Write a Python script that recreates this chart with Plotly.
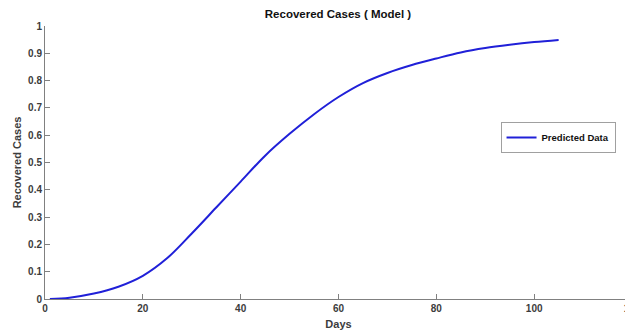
import plotly.graph_objects as go

days = [1, 5, 10, 15, 20, 25, 30, 35, 40, 45, 50, 55, 60, 65, 70, 75, 80, 85, 90, 95, 100, 105]
recovered = [0.000, 0.005, 0.020, 0.045, 0.085, 0.150, 0.240, 0.335, 0.430, 0.525, 0.605, 0.677,
             0.740, 0.791, 0.828, 0.857, 0.881, 0.903, 0.919, 0.931, 0.941, 0.949]
x_ticks = [0, 20, 40, 60, 80, 100, 120]
y_ticks = [0, 0.1, 0.2, 0.3, 0.4, 0.5, 0.6, 0.7, 0.8, 0.9, 1]
y_tick_text = ["0", "0.1", "0.2", "0.3", "0.4", "0.5", "0.6", "0.7", "0.8", "0.9", "1"]

FONT = "Liberation Sans, Arial, sans-serif"
AX = "#808080"
TXT = "#3c3c3c"

W, H = 625, 326  # page body has an 8px default margin
L, T, B, R = 37, 18, 35, 1

fig = go.Figure()
fig.add_trace(go.Scatter(
    x=days, y=recovered, mode="lines", name="<b>Predicted Data</b>",
    line=dict(color="#2020d8", width=2, shape="spline", smoothing=1.0),
))

fig.update_layout(
    width=W, height=H,
    margin=dict(l=L, r=R, t=T, b=B, autoexpand=False),
    paper_bgcolor="white", plot_bgcolor="white",
    font=dict(family=FONT, size=10, color=TXT),
    title=dict(text="<b>Recovered Cases ( Model )</b>", x=330 / W, xanchor="center",
               y=1 - 6 / H, yanchor="middle", font=dict(size=11.5, color="#111111")),
    showlegend=True,
    legend=dict(x=0.874, y=0.592, xanchor="center", yanchor="middle",
                bgcolor="white", bordercolor="#a0a0a0", borderwidth=1,
                font=dict(size=9.5, color="#111111"), itemwidth=30,
                tracegroupgap=0),
    xaxis=dict(range=[0, 120], tickvals=x_ticks, ticktext=[f"<b>{v}</b>" for v in x_ticks],
               showgrid=False, zeroline=False, showline=True, linecolor=AX, linewidth=1,
               ticks="inside", ticklen=5, tickcolor=AX, ticklabeloverflow="allow",
               automargin=False,
               title=dict(text="<b>Days</b>", font=dict(size=11, color=TXT), standoff=7)),
    yaxis=dict(range=[0, 1], tickvals=y_ticks, ticktext=[f"<b>{t}</b>" for t in y_tick_text],
               showgrid=False, zeroline=False, showline=True, linecolor=AX, linewidth=1,
               ticks="inside", ticklen=5, tickcolor=AX, automargin=False,
               title=dict(text="<b>Recovered Cases</b>", font=dict(size=11, color=TXT), standoff=4)),
)

fig.write_html("out.html")
